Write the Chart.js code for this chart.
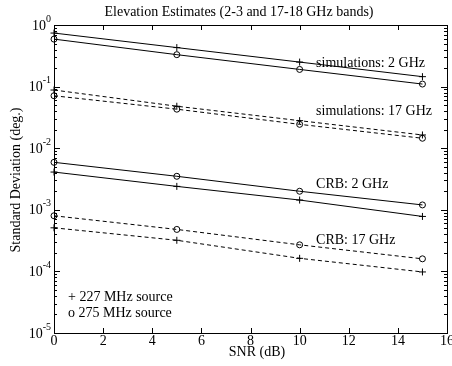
<!DOCTYPE html>
<html>
<head>
<meta charset="utf-8">
<script src="https://cdn.jsdelivr.net/npm/chart.js@4.4.0/dist/chart.umd.min.js"></script>
<style>
  body { margin: 0; background: #fff; }
  #wrap { width: 452px; height: 366px; }
</style>
</head>
<body>
<div id="wrap"><canvas id="myChart"></canvas></div>
<script>
// data
const snr = [0, 5, 10, 15];
const sim2_227 = [0.74, 0.43, 0.25, 0.145];
const sim2_275 = [0.59, 0.33, 0.19, 0.11];
const sim17_227 = [0.088, 0.048, 0.028, 0.0164];
const sim17_275 = [0.071, 0.043, 0.0244, 0.0145];
const crb2_227 = [0.0041, 0.0024, 0.00144, 0.00078];
const crb2_275 = [0.0059, 0.0035, 0.0020, 0.0012];
const crb17_227 = [0.00051, 0.00032, 0.000163, 0.000098];
const crb17_275 = [0.0008, 0.00048, 0.00027, 0.00016];
const xTicks = [0, 2, 4, 6, 8, 10, 12, 14, 16];
const yExps = [-5, -4, -3, -2, -1, 0];

const serif = '"Liberation Serif", "DejaVu Serif", serif';

function series(vals, style, dashed) {
  return {
    data: snr.map((x, i) => ({ x: x, y: vals[i] })),
    borderColor: '#000',
    borderWidth: 1,
    borderDash: dashed ? [4, 3] : [],
    pointStyle: style,
    pointRadius: style === 'circle' ? 3 : 3.5,
    pointBorderWidth: 1,
    pointBackgroundColor: 'rgba(255,255,255,0)',
    pointBorderColor: '#000',
    clip: false,
    tension: 0
  };
}

// ticks, labels and notes drawn MATLAB-style
const decor = {
  id: 'decor',
  afterDraw(chart) {
    const c = chart.ctx, a = chart.chartArea;
    const xs = chart.scales.x, ys = chart.scales.y;
    c.save();
    c.strokeStyle = '#000';
    c.lineWidth = 1;
    c.strokeRect(a.left + 0.5, a.top + 0.5, a.right - a.left, a.bottom - a.top);
    c.beginPath();
    xTicks.forEach(v => {
      const px = Math.round(xs.getPixelForValue(v)) + 0.5;
      c.moveTo(px, a.bottom); c.lineTo(px, a.bottom - 5);
      c.moveTo(px, a.top); c.lineTo(px, a.top + 5);
    });
    yExps.forEach(e => {
      const py = Math.round(ys.getPixelForValue(Math.pow(10, e))) + 0.5;
      c.moveTo(a.left, py); c.lineTo(a.left + 6, py);
      c.moveTo(a.right, py); c.lineTo(a.right - 6, py);
      if (e < 0) {
        for (let k = 2; k <= 9; k++) {
          const pm = Math.round(ys.getPixelForValue(k * Math.pow(10, e))) + 0.5;
          c.moveTo(a.left, pm); c.lineTo(a.left + 3, pm);
          c.moveTo(a.right, pm); c.lineTo(a.right - 3, pm);
        }
      }
    });
    c.stroke();

    c.fillStyle = '#000';
    c.font = '14px ' + serif;
    c.textAlign = 'center';
    c.textBaseline = 'middle';
    xTicks.forEach(v => c.fillText(String(v), xs.getPixelForValue(v), a.bottom + 8));

    yExps.forEach(e => {
      const py = ys.getPixelForValue(Math.pow(10, e));
      c.textAlign = 'right';
      c.textBaseline = 'middle';
      const sup = String(e);
      c.font = '10px ' + serif;
      const sw = c.measureText(sup).width;
      c.fillText(sup, a.left - 3, py - 6);
      c.font = '14px ' + serif;
      c.fillText('10', a.left - 3 - sw, py + 1);
    });

    c.font = '14px ' + serif;
    c.textAlign = 'center';
    c.textBaseline = 'middle';
    c.fillText('Elevation Estimates (2-3 and 17-18 GHz bands)', 239, 12);
    c.fillText('SNR (dB)', 257, 352);
    c.save();
    c.translate(16, 180);
    c.rotate(-Math.PI / 2);
    c.fillText('Standard Deviation (deg.)', 0, 0);
    c.restore();

    c.textAlign = 'left';
    const notes = [
      ['simulations: 2 GHz', 0.24],
      ['simulations: 17 GHz', 0.039],
      ['CRB: 2 GHz', 0.0026],
      ['CRB: 17 GHz', 0.00032]
    ];
    notes.forEach(n => c.fillText(n[0], xs.getPixelForValue(10.67), ys.getPixelForValue(n[1])));
    c.fillText('+ 227 MHz source', a.left + 14, 297);
    c.fillText('o 275 MHz source', a.left + 14, 313);
    c.restore();
  }
};

new Chart(document.getElementById('myChart'), {
  type: 'line',
  data: {
    datasets: [
      series(sim2_227, 'cross', false),
      series(sim2_275, 'circle', false),
      series(sim17_227, 'cross', true),
      series(sim17_275, 'circle', true),
      series(crb2_227, 'cross', false),
      series(crb2_275, 'circle', false),
      series(crb17_227, 'cross', true),
      series(crb17_275, 'circle', true)
    ]
  },
  options: {
    responsive: true,
    maintainAspectRatio: false,
    animation: false,
    layout: { padding: { top: 25, right: 5, left: 0, bottom: 0 } },
    plugins: { legend: { display: false }, tooltip: { enabled: false } },
    scales: {
      x: {
        type: 'linear', min: 0, max: 16,
        grid: { display: false }, border: { display: false },
        ticks: { display: false },
        afterFit: s => { s.height = 33; }
      },
      y: {
        type: 'logarithmic', min: 1e-5, max: 1,
        grid: { display: false }, border: { display: false },
        ticks: { display: false },
        afterFit: s => { s.width = 54; }
      }
    }
  },
  plugins: [decor]
});
</script>
</body>
</html>
